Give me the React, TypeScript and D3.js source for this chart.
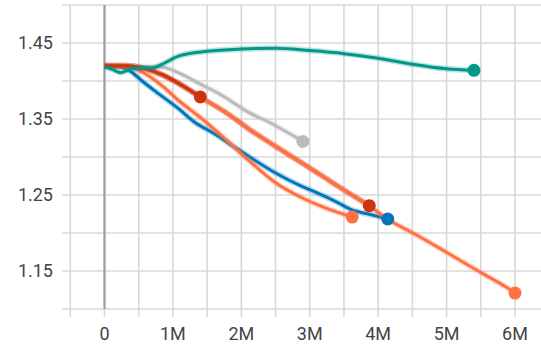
import { useEffect, useRef } from "react"
import * as d3 from "d3"

// x values are in millions of steps
const tealX = [0, 0.12, 0.24, 0.39, 0.55, 0.69, 0.84, 1.09, 1.5, 2.0, 2.5, 3.0, 3.5, 4.0, 4.5, 5.0, 5.4]
const tealY = [1.419, 1.415, 1.411, 1.416, 1.417, 1.417, 1.422, 1.433, 1.439, 1.442, 1.443, 1.44, 1.436, 1.43, 1.422, 1.416, 1.414]

const greyX = [0, 0.5, 0.85, 1.1, 1.4, 1.7, 2.1, 2.4, 2.9]
const greyY = [1.419, 1.419, 1.418, 1.41, 1.396, 1.382, 1.359, 1.346, 1.3205]

const redShortX = [0, 0.3, 0.6, 0.85, 1.1, 1.4]
const redShortY = [1.42, 1.42, 1.416, 1.408, 1.396, 1.379]

const redX = [0, 0.3, 0.6, 0.85, 1.1, 1.4, 1.8, 2.14, 2.5, 2.87, 3.2, 3.6, 3.87]
const redY = [1.42, 1.42, 1.416, 1.408, 1.396, 1.379, 1.357, 1.335, 1.314, 1.293, 1.274, 1.251, 1.236]

const orangeX = [0, 0.3, 0.6, 0.85, 1.1, 1.4, 1.8, 2.14, 2.5, 2.87, 3.2, 3.6, 3.87, 4.14, 4.53, 5.01, 5.5, 5.92, 6.0]
const orangeY = [1.42, 1.42, 1.416, 1.408, 1.396, 1.379, 1.357, 1.335, 1.314, 1.293, 1.274, 1.251, 1.236, 1.218, 1.199, 1.174, 1.148, 1.126, 1.121]

const blueX = [0, 0.2, 0.36, 0.55, 0.75, 1.09, 1.33, 1.6, 1.9, 2.14, 2.5, 2.87, 3.0, 3.41, 3.6, 3.9, 4.14]
const blueY = [1.419, 1.419, 1.414, 1.4, 1.386, 1.363, 1.345, 1.331, 1.313, 1.299, 1.279, 1.262, 1.257, 1.24, 1.231, 1.224, 1.2184]

const orange2X = [0, 0.3, 0.5, 0.84, 1.1, 1.4, 1.75, 2.09, 2.5, 2.87, 3.2, 3.62]
const orange2Y = [1.42, 1.419, 1.414, 1.394, 1.373, 1.352, 1.325, 1.297, 1.266, 1.247, 1.234, 1.221]

const series = [
  { name: "grey", color: "#bbbbbb", xs: greyX, ys: greyY },
  { name: "blue", color: "#0077bb", xs: blueX, ys: blueY },
  { name: "orange2", color: "#ff7043", xs: orange2X, ys: orange2Y },
  { name: "red", color: "#cc3311", xs: redX, ys: redY },
  { name: "orange", color: "#ff7043", xs: orangeX, ys: orangeY },
  { name: "redShort", color: "#cc3311", xs: redShortX, ys: redShortY },
  { name: "teal", color: "#009988", xs: tealX, ys: tealY },
]

const yLabelTicks = [1.15, 1.25, 1.35, 1.45]
const yGridTicks = [1.1, 1.15, 1.2, 1.25, 1.3, 1.35, 1.4, 1.45, 1.5]
const xLabelTicks = [0, 1, 2, 3, 4, 5, 6]
const xGridTicks = [-0.5, 0, 0.5, 1, 1.5, 2, 2.5, 3, 3.5, 4, 4.5, 5, 5.5, 6]

export default function App() {
  const svgRef = useRef<SVGSVGElement>(null)

  useEffect(() => {
    if (!svgRef.current) return
    const svg = d3.select(svgRef.current)
    svg.selectAll("*").remove()

    const left = 62
    const right = 541
    const top = 5
    const bottom = 309

    const x = d3.scaleLinear().domain([0, 6]).range([104.5, 515])
    const y = d3.scaleLinear().domain([1.1, 1.5]).range([bottom, top])

    // grid
    svg
      .append("g")
      .selectAll("line")
      .data(yGridTicks)
      .join("line")
      .attr("x1", left)
      .attr("x2", right)
      .attr("y1", (d) => y(d))
      .attr("y2", (d) => y(d))
      .attr("stroke", "#d8d8d8")
      .attr("stroke-width", 1.6)

    svg
      .append("g")
      .selectAll("line")
      .data(xGridTicks)
      .join("line")
      .attr("x1", (d) => x(d))
      .attr("x2", (d) => x(d))
      .attr("y1", top)
      .attr("y2", (d) => (d === 0 ? bottom : bottom + 8))
      .attr("stroke", "#d8d8d8")
      .attr("stroke-width", 1.6)

    // zero line
    svg
      .append("line")
      .attr("x1", x(0))
      .attr("x2", x(0))
      .attr("y1", top)
      .attr("y2", bottom)
      .attr("stroke", "#9e9e9e")
      .attr("stroke-width", 2.2)
    svg
      .append("line")
      .attr("x1", x(0))
      .attr("x2", x(0))
      .attr("y1", bottom)
      .attr("y2", bottom + 8)
      .attr("stroke", "#d8d8d8")
      .attr("stroke-width", 1.6)

    // labels
    svg
      .append("g")
      .selectAll("text")
      .data(yLabelTicks)
      .join("text")
      .attr("x", 53)
      .attr("y", (d) => y(d))
      .attr("dy", "0.35em")
      .attr("text-anchor", "end")
      .attr("fill", "#444")
      .style("font-family", "Roboto, sans-serif")
      .style("font-size", "18px")
      .text((d) => d.toFixed(2))

    svg
      .append("g")
      .selectAll("text")
      .data(xLabelTicks)
      .join("text")
      .attr("x", (d) => x(d))
      .attr("y", 334)
      .attr("dy", "0.35em")
      .attr("text-anchor", "middle")
      .attr("fill", "#444")
      .style("font-family", "Roboto, sans-serif")
      .style("font-size", "18px")
      .text((d) => (d === 0 ? "0" : `${d}M`))

    const line = d3
      .line<[number, number]>()
      .x((d) => x(d[0]))
      .y((d) => y(d[1]))
      .curve(d3.curveMonotoneX)

    const plot = svg.append("g")

    series.forEach((s) => {
      const pts: [number, number][] = s.xs.map((v, i) => [v, s.ys[i]])
      plot
        .append("path")
        .attr("d", line(pts))
        .attr("fill", "none")
        .attr("stroke", s.color)
        .attr("stroke-opacity", 0.25)
        .attr("stroke-width", 6)
      plot
        .append("path")
        .attr("d", line(pts))
        .attr("fill", "none")
        .attr("stroke", s.color)
        .attr("stroke-width", 3)
        .attr("stroke-linejoin", "round")
    })

    series.forEach((s) => {
      const n = s.xs.length - 1
      plot
        .append("circle")
        .attr("cx", x(s.xs[n]))
        .attr("cy", y(s.ys[n]))
        .attr("r", 6.5)
        .attr("fill", s.color)
    })
  }, [])

  return (
    <svg
      ref={svgRef}
      width={541}
      height={351}
      style={{ position: "absolute", left: 0, top: 0, background: "#fff" }}
    ></svg>
  )
}
